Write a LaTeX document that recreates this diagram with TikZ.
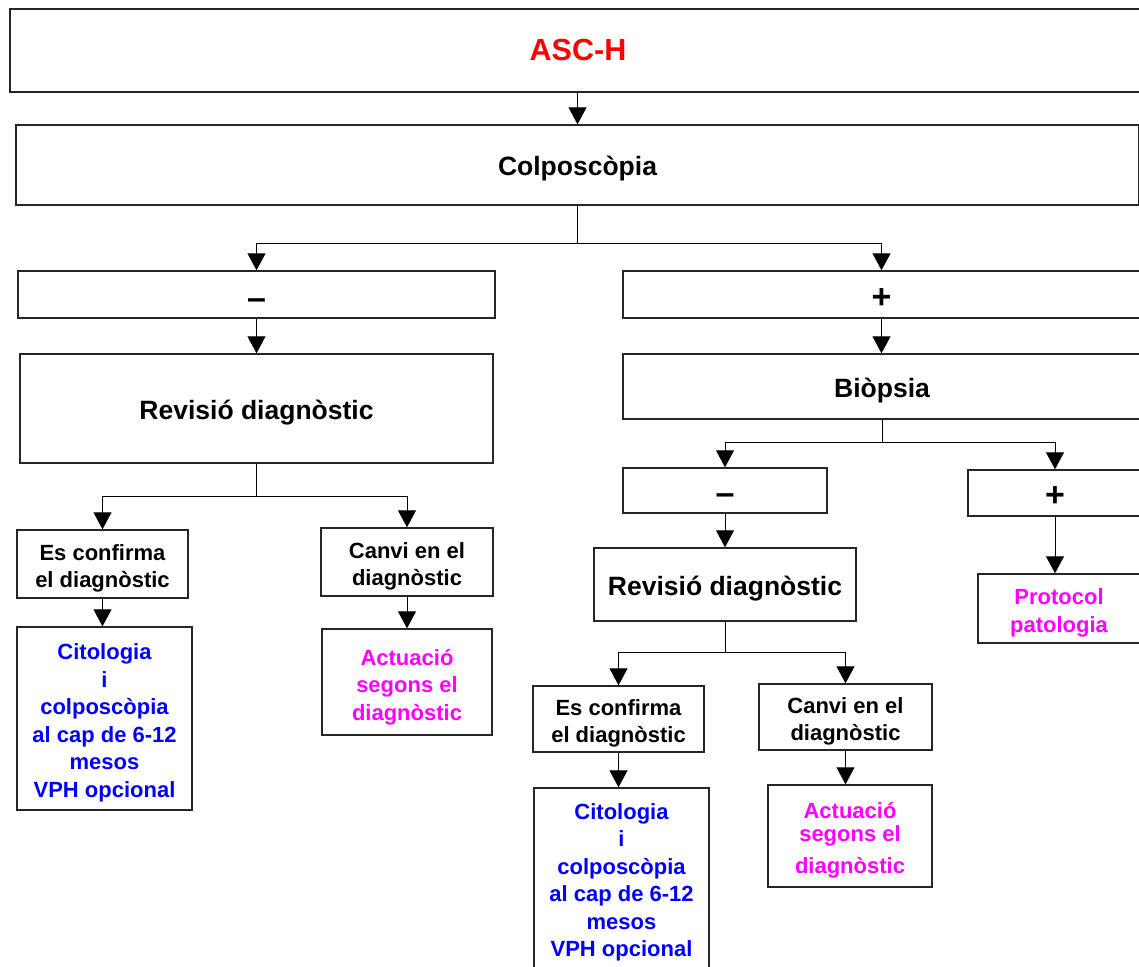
\documentclass[tikz,border=0pt]{standalone}
\usepackage{fontspec}
\setmainfont{Liberation Sans}
\usetikzlibrary{arrows.meta}
\definecolor{tred}{RGB}{255,0,0}
\definecolor{tblue}{RGB}{0,0,255}
\definecolor{tmag}{RGB}{255,0,255}
% centred lines, lowered a little inside their box
\newcommand{\txt}[2][4.5pt]{\raisebox{-#1}[\height][\depth]{\begin{tabular}{@{}c@{}}#2\end{tabular}}}
\tikzset{
  box/.style={draw=black!85, line width=1.4pt, inner sep=0pt,
    font=\bfseries\fontsize{26.5}{32}\selectfont},
  smallbox/.style={box, font=\bfseries\fontsize{22}{27.5}\selectfont},
  signbox/.style={box, font=\bfseries\fontsize{34}{38}\selectfont},
  arr/.style={line width=1pt, -{Triangle[width=18pt,length=17pt]}},
  link/.style={line width=1pt},
}
\begin{document}
\begin{tikzpicture}[x=1pt,y=-1pt]
\clip (0,0) rectangle (1139,966);
\fill[white] (0,0) rectangle (1139,966);

% top of the chart
\node[box, minimum width=1136pt, minimum height=83pt, text=tred,
  font=\bfseries\fontsize{30.5}{34}\selectfont] (asch) at (578,50.5) {\txt[3.5pt]{ASC-H}};
\node[box, minimum width=1123pt, minimum height=80pt] (colp) at (577.5,165) {\txt{Colposcòpia}};

% first split
\node[signbox, minimum width=477pt, minimum height=47pt] (negA) at (256.5,294.5) {\txt[7pt]{–}};
\node[signbox, minimum width=517pt, minimum height=47pt] (posA) at (881.5,294.5) {\txt[6pt]{+}};

% negative colposcopy branch
\node[box, minimum width=473pt, minimum height=109pt] (rev1) at (256.5,408.5) {\txt{Revisió diagnòstic}};
\node[smallbox, minimum width=171pt, minimum height=68pt] (conf1) at (102.5,564) {\txt{Es confirma\\el diagnòstic}};
\node[smallbox, minimum width=172pt, minimum height=68pt] (canv1) at (407,562) {\txt{Canvi en el\\diagnòstic}};
\node[smallbox, minimum width=175pt, minimum height=183pt, text=tblue] (cito1) at (104.5,718.5)
  {\txt{Citologia\\i\\colposcòpia\\al cap de 6-12\\mesos\\VPH opcional}};
\node[smallbox, minimum width=170pt, minimum height=106pt, text=tmag] (actu1) at (407,682)
  {\txt[5pt]{Actuació\\segons el\\diagnòstic}};

% positive colposcopy branch
\node[box, minimum width=518pt, minimum height=65pt] (biop) at (882,386.5) {\txt[5pt]{Biòpsia}};
\node[signbox, minimum width=204pt, minimum height=45pt] (negB) at (725,490.5) {\txt[6.5pt]{–}};
\node[signbox, minimum width=174pt, minimum height=46pt] (posB) at (1055,493) {\txt[6pt]{+}};
\node[box, minimum width=262pt, minimum height=73pt] (rev2) at (725,584.5) {\txt{Revisió diagnòstic}};
\node[smallbox, minimum width=162pt, minimum height=69pt, text=tmag] (prot) at (1059,608.5)
  {\txt{Protocol\\patologia}};
\node[smallbox, minimum width=171pt, minimum height=66pt] (conf2) at (618.5,719) {\txt{Es confirma\\el diagnòstic}};
\node[smallbox, minimum width=173pt, minimum height=66pt] (canv2) at (845.5,717) {\txt{Canvi en el\\diagnòstic}};
\node[smallbox, minimum width=175pt, minimum height=180pt, text=tblue] (cito2) at (621.5,878)
  {\txt{Citologia\\i\\colposcòpia\\al cap de 6-12\\mesos\\VPH opcional}};
\node[smallbox, minimum width=164pt, minimum height=102pt, text=tmag] (actu2) at (850,836)
  {\txt{Actuació\\[-4.5pt]segons el\\[4.5pt]diagnòstic}};

% connectors
\draw[arr] (colp.north |- asch.south) -- (colp.north);

\draw[link] (colp.south) -- ++(0,38) coordinate (j1);
\draw[arr] (j1) -| (negA.north);
\draw[arr] (j1) -| (posA.north);

\draw[arr] (negA.south) -- (rev1.north);
\draw[arr] (posA.south) -- (posA.south |- biop.north);

\draw[link] (rev1.south) -- ++(0,33) coordinate (j2);
\draw[arr] (j2) -| (conf1.north);
\draw[arr] (j2) -| (canv1.north);
\draw[arr] (conf1.south) -- (conf1.south |- cito1.north);
\draw[arr] (canv1.south) -- (canv1.south |- actu1.north);

\draw[link] (biop.south) -- ++(0,23) coordinate (j3);
\draw[arr] (j3) -| (negB.north);
\draw[arr] (j3) -| (posB.north);
\draw[arr] (negB.south) -- (rev2.north);
\draw[arr] (posB.south) -- (posB.south |- prot.north);

\draw[link] (rev2.south) -- ++(0,31) coordinate (j4);
\draw[arr] (j4) -| (conf2.north);
\draw[arr] (j4) -| (canv2.north);
\draw[arr] (conf2.south) -- (conf2.south |- cito2.north);
\draw[arr] (canv2.south) -- (canv2.south |- actu2.north);
\end{tikzpicture}
\end{document}
